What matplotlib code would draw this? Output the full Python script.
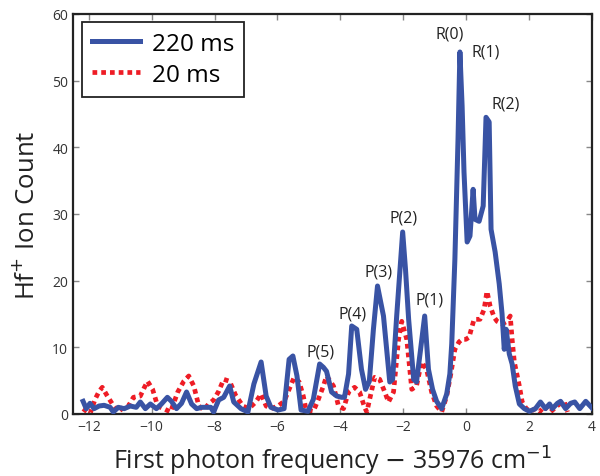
import matplotlib
matplotlib.use("Agg")
import matplotlib.pyplot as plt

# frequency offsets (cm^-1) and ion counts
freq_220 = [-12.18, -12.08, -11.96, -11.83, -11.67, -11.51, -11.32, -11.22, -11.06, -10.87,
            -10.68, -10.49, -10.36, -10.20, -10.04, -9.85, -9.69, -9.50, -9.37, -9.21,
            -9.05, -8.89, -8.73, -8.57, -8.41, -8.25, -8.12, -8.03, -7.87, -7.71,
            -7.52, -7.39, -7.16, -6.94, -6.75, -6.52, -6.36, -6.21, -5.98, -5.79,
            -5.63, -5.51, -5.38, -5.25, -5.03, -4.86, -4.66, -4.54, -4.44, -4.28,
            -4.12, -3.96, -3.87, -3.74, -3.64, -3.48, -3.33, -3.20, -3.08, -2.95,
            -2.82, -2.63, -2.43, -2.34, -2.21, -2.02, -1.93, -1.83, -1.67, -1.58,
            -1.45, -1.32, -1.20, -1.07, -0.94, -0.78, -0.62, -0.52, -0.46, -0.36,
            -0.26, -0.20, -0.13, -0.07, 0.03, 0.12, 0.22, 0.28, 0.41, 0.54,
            0.63, 0.73, 0.79, 0.92, 1.05, 1.14, 1.21, 1.27, 1.37, 1.46,
            1.56, 1.69, 1.85, 2.01, 2.20, 2.36, 2.52, 2.65, 2.74, 2.90,
            3.00, 3.16, 3.32, 3.45, 3.61, 3.80, 4.02]
counts_220 = [1.9, 0.8, 1.6, 0.8, 1.2, 1.3, 1.0, 0.3, 1.0, 0.8,
              1.2, 1.0, 1.8, 0.8, 1.5, 0.8, 1.5, 2.5, 1.9, 0.8,
              1.6, 3.3, 1.5, 0.8, 1.0, 1.0, 1.0, 0.3, 2.1, 2.5,
              4.2, 1.8, 0.8, 0.3, 4.5, 7.8, 2.7, 1.0, 0.6, 0.8,
              8.2, 8.7, 5.7, 0.6, 0.4, 2.2, 7.5, 7.0, 6.4, 3.3,
              2.7, 2.5, 2.5, 6.0, 13.2, 12.7, 6.7, 3.7, 4.9, 12.7,
              19.2, 14.7, 4.8, 5.2, 14.7, 27.3, 21.7, 14.2, 5.2, 4.8,
              9.7, 14.7, 6.7, 3.7, 1.9, 0.8, 3.0, 6.0, 10.5, 23.2,
              41.2, 54.3, 46.2, 36.3, 25.8, 26.7, 33.7, 29.2, 28.9, 31.2,
              44.5, 43.8, 27.7, 24.3, 19.5, 15.0, 9.7, 12.7, 9.0, 7.5,
              4.2, 1.5, 0.8, 0.4, 0.8, 1.8, 0.8, 1.5, 0.8, 1.6,
              1.9, 0.8, 1.6, 1.8, 0.8, 1.9, 0.8]

freq_20 = [-12.18, -11.96, -11.80, -11.67, -11.57, -11.41, -11.25, -11.06, -10.90, -10.74,
           -10.58, -10.36, -10.23, -10.13, -9.97, -9.81, -9.62, -9.40, -9.17, -8.98,
           -8.82, -8.66, -8.50, -8.34, -8.19, -8.03, -7.87, -7.71, -7.52, -7.33,
           -7.10, -6.91, -6.69, -6.52, -6.36, -6.21, -5.98, -5.79, -5.63, -5.47,
           -5.31, -5.18, -5.09, -4.86, -4.70, -4.54, -4.44, -4.22, -4.06, -3.90,
           -3.74, -3.55, -3.39, -3.23, -3.16, -3.07, -2.91, -2.75, -2.59, -2.47,
           -2.31, -2.15, -2.05, -1.89, -1.73, -1.58, -1.42, -1.26, -1.10, -0.94,
           -0.78, -0.62, -0.49, -0.36, -0.23, -0.13, -0.01, 0.09, 0.25, 0.44,
           0.57, 0.66, 0.76, 0.89, 0.98, 1.14, 1.30, 1.40, 1.46, 1.53,
           1.69, 1.78, 1.91, 2.04, 2.20, 2.33, 2.49, 2.68, 2.84, 2.97,
           3.12, 3.22]
counts_20 = [0.8, 0.0, 2.2, 3.4, 4.0, 2.7, 1.5, 0.3, 1.0, 1.2,
             2.5, 2.7, 4.0, 4.9, 3.7, 1.2, 0.8, 0.3, 3.3, 4.9,
             5.7, 4.2, 1.2, 0.6, 1.5, 2.1, 3.4, 5.2, 4.9, 2.8,
             1.2, 0.8, 1.8, 3.0, 1.2, 0.8, 1.2, 1.9, 3.7, 5.5,
             4.8, 2.7, 0.6, 0.4, 2.2, 4.2, 5.7, 4.2, 1.2, 0.8,
             3.3, 4.0, 3.3, 1.0, 0.3, 2.2, 5.5, 5.2, 3.3, 1.8,
             3.3, 11.2, 13.9, 11.2, 3.7, 4.2, 7.8, 6.7, 3.3, 1.2,
             0.3, 2.7, 6.0, 9.7, 10.8, 11.2, 11.2, 11.5, 14.2, 14.2,
             15.7, 18.4, 16.2, 14.5, 13.9, 13.5, 13.9, 14.7, 11.2, 7.8,
             4.2, 1.8, 0.8, 0.4, 0.8, 0.3, 1.2, 0.3, 1.0, 1.5,
             1.8, 0.3]

# line labels: (text, x, y)
peak_labels = [("R(0)", -0.54, 57.0), ("R(1)", 0.63, 54.4), ("R(2)", 1.24, 46.6),
               ("P(1)", -1.18, 17.2), ("P(2)", -1.98, 29.5), ("P(3)", -2.79, 21.4),
               ("P(4)", -3.60, 15.0), ("P(5)", -4.63, 9.4)]

xticks = [-12, -10, -8, -6, -4, -2, 0, 2, 4]
yticks = [0, 10, 20, 30, 40, 50, 60]

plt.rcParams['font.family'] = ['Open Sans', 'DejaVu Sans']

fig = plt.figure(figsize=(6.0, 4.77), dpi=100)
ax = fig.add_axes([0.1217, 0.130, 0.865, 0.8386])

ax.plot(freq_220, counts_220, color='#3953a4', lw=3.6, label='220 ms',
        solid_joinstyle='round', zorder=3)
ax.plot(freq_20, counts_20, color='#ee1c25', lw=3.4, linestyle=(0, (1.0, 0.85)),
        dash_capstyle='butt', label='20 ms', zorder=2)

for txt, x, y in peak_labels:
    ax.text(x, y, txt, ha='center', va='center', fontsize=11.5, color='#222222')

ax.set_xlim(-12.5, 4)
ax.set_ylim(0, 60)
ax.set_xticks(xticks)
ax.set_yticks(yticks)
ax.tick_params(direction='in', top=True, right=True, length=4, width=1,
               labelsize=10, labelcolor='#333333', color='#888888')
for s in ax.spines.values():
    s.set_linewidth(1.6)
    s.set_color('#222222')

ax.set_xlabel(r'First photon frequency $-$ 35976 cm$^{-1}$', fontsize=18,
              color='#222222', labelpad=7)
ax.set_ylabel(r'Hf$^{+}$ Ion Count', fontsize=18.5, color='#222222', labelpad=8)

leg = ax.legend(loc='upper left', fontsize=17.5, frameon=True, fancybox=False,
                handlelength=2.0, borderpad=0.4, labelspacing=0.3,
                handletextpad=0.5, borderaxespad=0,
                bbox_to_anchor=(0.017, 0.98))
leg.get_frame().set_edgecolor('#222222')
leg.get_frame().set_linewidth(1.3)
leg.get_frame().set_alpha(1)

fig.savefig('out.png', dpi=100)
